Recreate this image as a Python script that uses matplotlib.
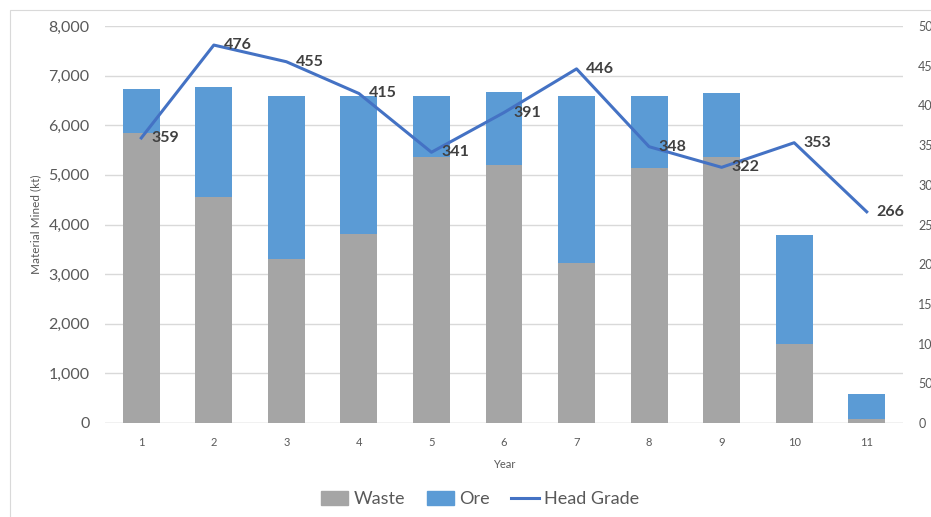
import numpy as np
import matplotlib
matplotlib.use("Agg")
import matplotlib.pyplot as plt
from matplotlib.patches import Rectangle
from matplotlib.lines import Line2D
from matplotlib.ticker import FuncFormatter

plt.rcParams['font.family'] = ['Lato', 'DejaVu Sans']

# data
years = ['1', '2', '3', '4', '5', '6', '7', '8', '9', '10', '11']
waste = [5850, 4560, 3300, 3810, 5360, 5200, 3230, 5130, 5370, 1590, 80]
ore = [890, 2210, 3290, 2780, 1230, 1470, 3360, 1460, 1280, 2190, 500]
head_grade = [359, 476, 455, 415, 341, 391, 446, 348, 322, 353, 266]

grey = '#A5A5A5'
blue = '#5B9BD5'
line_c = '#4472C4'
txt = '#595959'
grid_c = '#D9D9D9'

fig = plt.figure(figsize=(9.31, 5.17), dpi=100)
fig.patches.append(Rectangle((10 / 931, -0.1), 1.2, (517 - 10) / 517 + 0.1,
                             transform=fig.transFigure, fill=False,
                             edgecolor='#D9D9D9', linewidth=0.8))
ax = fig.add_axes([105 / 931, 94 / 517, 798 / 931, 397 / 517])

x = np.arange(len(years))
ax.bar(x, waste, width=0.51, color=grey, zorder=2)
ax.bar(x, ore, width=0.51, bottom=waste, color=blue, zorder=2)
ax.set_xlim(-0.5, len(years) - 0.5)
ax.set_ylim(0, 8000)
ax.set_yticks(np.arange(0, 8001, 1000))
ax.yaxis.set_major_formatter(FuncFormatter(lambda v, p: f'{int(v):,}'))
ax.set_xticks(x)
ax.set_xticklabels(years)
ax.grid(axis='y', color=grid_c, linewidth=1, zorder=0)
for s in ax.spines.values():
    s.set_visible(False)
ax.axhline(0, color=grid_c, linewidth=1, zorder=1)
ax.tick_params(axis='y', length=0, pad=11, labelsize=11.5, labelcolor=txt)
ax.tick_params(axis='x', length=0, pad=10, labelsize=8, labelcolor=txt)
ax.set_xlabel('Year', fontsize=8, color=txt, labelpad=8)
ax.set_ylabel('Material Mined (kt)', fontsize=8.5, color=txt, labelpad=5)

# head grade on the secondary axis (labels run off the right edge as in the source)
ax2 = ax.twinx()
ax2.plot(x, head_grade, color=line_c, linewidth=2.2, zorder=3)
ax2.set_ylim(0, 500)
ax2.set_yticks(np.arange(0, 501, 50))
for s in ax2.spines.values():
    s.set_visible(False)
ax2.tick_params(axis='y', length=0, pad=11, labelsize=9, labelcolor=txt)
for xi, v in zip(x, head_grade):
    ax2.annotate(str(v), (xi, v), xytext=(7, 0), textcoords='offset points',
                 ha='left', va='center', fontsize=11.5, fontweight='bold',
                 color='#404040')

handles = [Rectangle((0, 0), 1, 1, color=grey),
           Rectangle((0, 0), 1, 1, color=blue),
           Line2D([0], [0], color=line_c, linewidth=2.2)]
fig.legend(handles, ['Waste', 'Ore', 'Head Grade'], loc='center',
           bbox_to_anchor=(480 / 931, 18 / 517), ncol=3, frameon=False,
           fontsize=13, labelcolor=txt, handlelength=1.5, handleheight=0.8,
           columnspacing=1.2, handletextpad=0.3)

fig.savefig('out.png', dpi=100)
